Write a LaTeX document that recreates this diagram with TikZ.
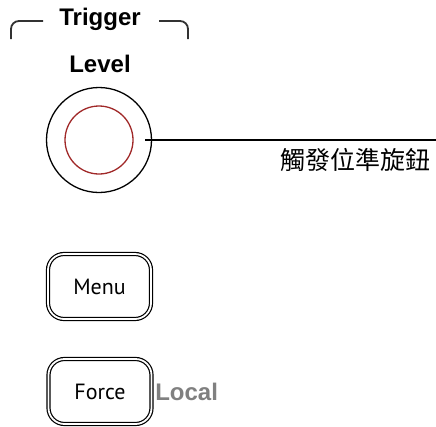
\documentclass[tikz,border=0pt]{standalone}
\usepackage{fontspec}
\setmainfont{Liberation Sans}
\newfontfamily\btnfont{PT Sans}
\newfontfamily\cjkfont{Noto Sans CJK TC}
\usetikzlibrary{positioning,calc}
\definecolor{knobred}{RGB}{160,40,40}
\definecolor{bracketgray}{RGB}{50,50,50}
\definecolor{localgray}{RGB}{128,128,128}

\begin{document}
\begin{tikzpicture}[x=1pt,y=1pt,
    title/.style={font=\fontsize{24}{24}\selectfont\bfseries,inner sep=0pt},
    bracket/.style={draw=bracketgray,line width=1.8pt,rounded corners=8pt},
    ring/.style={draw,circle,line width=1.3pt,inner sep=0pt},
    btn/.style={draw,line width=1.2pt,double,double distance=1.8pt,rounded corners=16pt,
      minimum width=103pt,minimum height=65pt,font=\btnfont\fontsize{22}{22}\selectfont}]
  \useasboundingbox (0,-426) rectangle (436,0);
  % trigger heading
  \node[title] (trigger) at (100,-19) {Trigger};
  \node[title] (level) at (100,-64) {Level};
  \draw[bracket] (11,-39) -- (11,-21) -- (43,-21);
  \draw[bracket] (159,-21) -- (188,-21) -- (188,-39);
  % level knob
  \node[ring,minimum size=105pt] (knob) at (99,-140) {};
  \node[ring,draw=knobred,minimum size=68pt] (knobin) at (knob.center) {};
  \coordinate (lineend) at (436,-140);
  \draw[line width=1.2pt] ([xshift=-7pt]knob.east) -- (lineend);
  \node[font=\cjkfont\fontsize{25}{25}\selectfont,anchor=east,inner sep=0pt] (knoblbl) at (431,-160) {觸發位準旋鈕};
  % buttons
  \node[btn] (menu) at (99.5,-286.5) {Menu};
  \node[btn] (force) at (100,-391.5) {Force};
  \node[title,text=localgray,anchor=west] (local) at ([xshift=3pt]force.east) {Local};
\end{tikzpicture}
\end{document}
